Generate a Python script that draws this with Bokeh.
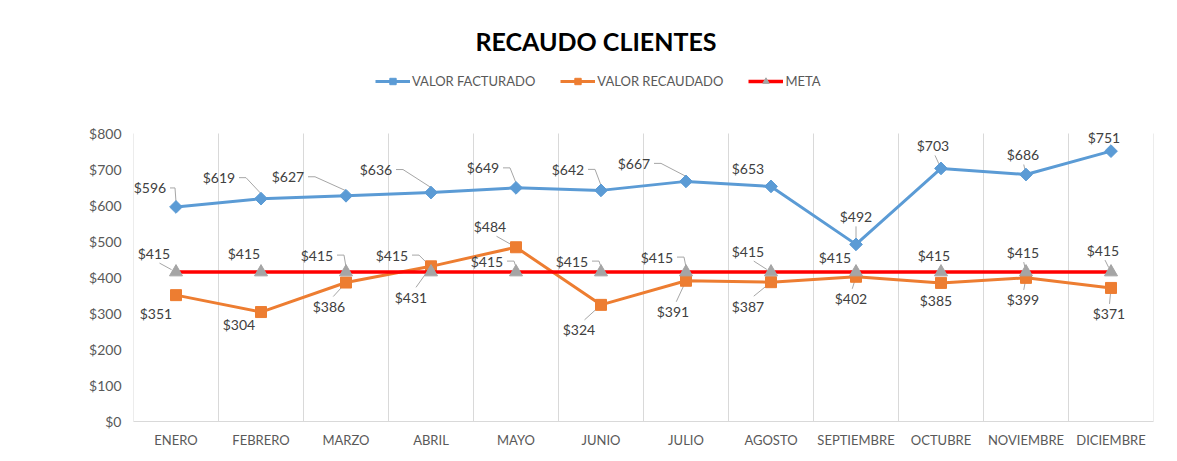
import math
import numpy as np
from bokeh.plotting import figure
from bokeh.models import (ColumnDataSource, Range1d, FixedTicker, LabelSet,
                          Legend, LegendItem, Title, NumeralTickFormatter)
from bokeh.core.properties import value
from bokeh.embed import file_html
from bokeh.resources import INLINE

# ---------------- data ----------------
months = ["ENERO", "FEBRERO", "MARZO", "ABRIL", "MAYO", "JUNIO", "JULIO",
          "AGOSTO", "SEPTIEMBRE", "OCTUBRE", "NOVIEMBRE", "DICIEMBRE"]
facturado = [596, 619, 627, 636, 649, 642, 667, 653, 492, 703, 686, 751]
recaudado = [351, 304, 386, 431, 484, 324, 391, 387, 402, 385, 399, 371]
meta = [415, 415, 415, 415, 415, 415, 415, 415, 415, 415, 415, 415]
y_ticks = [0, 100, 200, 300, 400, 500, 600, 700, 800]

# ---------------- label placement (pixel offsets: right / down) ----------------
fact_dx = [-26, -42, -58, -55, -33, -33, -52, -23, 0, -8, -3, -7]
fact_dy = [-19, -21, -19, -23, -20, -21, -18, -18, -28, -23, -20, -14]
fact_ld = ["L", "L", "L", "L", "L", "L", "L", "", "D", "D", "D", ""]

rec_dx = [-20, -22, -17, -20, -26, -22, -13, -23, -5, -5, -3, -2]
rec_dy = [18, 12, 24, 31, -21, 25, 31, 24, 22, 18, 22, 26]
rec_ld = ["", "", "D", "D", "D", "D", "D", "D", "D", "", "D", "D"]

meta_dx = [-22, -17, -29, -39, -29, -29, -29, -23, -21, -7, -3, -8]
meta_dy = [-19, -19, -17, -17, -11, -11, -15, -21, -15, -17, -20, -22]
meta_ld = ["D", "", "L", "L", "L", "L", "L", "D", "", "", "D", "D"]

FONT = "Lato"
Y_END = 1000                       # head room for the legend inside the frame
FRAME_W, FRAME_H = 1020, 360
B_LEFT, B_TOP, B_BOTTOM, B_RIGHT = 133, 61, 37, 17
W = B_LEFT + FRAME_W + B_RIGHT
H = B_TOP + FRAME_H + B_BOTTOM
PX_X = FRAME_W / len(months)
PX_Y = FRAME_H / Y_END

x_idx = np.arange(len(months)) + 0.5
bounds = np.arange(len(months) + 1)

p = figure(width=W, height=H,
           x_range=Range1d(0, len(months)), y_range=Range1d(0, Y_END),
           output_backend="svg", toolbar_location=None, title=None,
           min_border_left=B_LEFT, min_border_right=B_RIGHT,
           min_border_bottom=B_BOTTOM, min_border_top=B_TOP)
p.outline_line_color = None
p.background_fill_color = "white"
p.border_fill_color = "white"
p.xgrid.grid_line_color = None
p.ygrid.grid_line_color = None

# vertical separators at category boundaries (0 .. top tick)
p.segment(x0=bounds, y0=[y_ticks[0]] * len(bounds), x1=bounds,
          y1=[y_ticks[-1]] * len(bounds), line_color="#D9D9D9", line_width=1)

# x axis
p.xaxis.ticker = FixedTicker(ticks=list(x_idx))
p.xaxis.major_label_overrides = {float(x): m for x, m in zip(x_idx, months)}
p.xaxis.axis_line_color = "#D9D9D9"
p.xaxis.major_tick_line_color = None
p.xaxis.minor_tick_line_color = None
p.xaxis.major_tick_out = 0
p.xaxis.major_tick_in = 0
p.xaxis.major_label_text_font = FONT
p.xaxis.major_label_text_font_size = "13px"
p.xaxis.major_label_text_color = "#595959"
p.xaxis.major_label_standoff = 10

# y axis
p.yaxis.ticker = FixedTicker(ticks=y_ticks)
p.yaxis.formatter = NumeralTickFormatter(format="$0")
p.yaxis.axis_line_color = None
p.yaxis.major_tick_line_color = None
p.yaxis.minor_tick_line_color = None
p.yaxis.major_tick_out = 0
p.yaxis.major_tick_in = 0
p.yaxis.major_label_text_font = FONT
p.yaxis.major_label_text_font_size = "14px"
p.yaxis.major_label_text_color = "#595959"
p.yaxis.major_label_standoff = 12

src = ColumnDataSource(dict(
    x=x_idx, fact=facturado, rec=recaudado, meta=meta,
    fact_lbl=[f"${v}" for v in facturado],
    rec_lbl=[f"${v}" for v in recaudado],
    meta_lbl=[f"${v}" for v in meta],
    fact_xo=fact_dx, fact_yo=[-d for d in fact_dy],
    rec_xo=rec_dx, rec_yo=[-d for d in rec_dy],
    meta_xo=meta_dx, meta_yo=[-d for d in meta_dy],
))


def leaders(vals, dxs, dys, kinds, w=17, h=8, gap=5):
    xs, ys = [], []
    for i, (v, dx, dy, k) in enumerate(zip(vals, dxs, dys, kinds)):
        if not k:
            continue
        if k == "L":
            s = 1 if dx < 0 else -1
            p0 = (dx + s * (w + 3), dy)
            p1x = dx + s * (w + 10)
            p1x = min(p1x, -1) if s == 1 else max(p1x, 1)
            pts = [p0, (p1x, dy), (0, -gap if dy < 0 else gap)]
        else:
            sy = 1 if dy < 0 else -1
            p0 = (dx * 0.75, dy + sy * (h + 2))
            L = math.hypot(p0[0], p0[1])
            f = max(0.0, (L - gap) / L) if L > 0 else 0
            pts = [p0, (p0[0] - p0[0] * f, p0[1] - p0[1] * f)]
        xs.append([x_idx[i] + px / PX_X for px, py in pts])
        ys.append([v - py / PX_Y for px, py in pts])
    return xs, ys


LEADER_COLOR = "#A6A6A6"
for vals, dxs, dys, kinds in [(facturado, fact_dx, fact_dy, fact_ld),
                              (recaudado, rec_dx, rec_dy, rec_ld),
                              (meta, meta_dx, meta_dy, meta_ld)]:
    lx, ly = leaders(vals, dxs, dys, kinds)
    p.multi_line(xs=lx, ys=ly, line_color=LEADER_COLOR, line_width=1)

BLUE, ORANGE, RED, GRAY = "#5B9BD5", "#ED7D31", "#FF0000", "#A5A5A5"

fl = p.line("x", "fact", source=src, line_color=BLUE, line_width=3)
fm = p.scatter("x", "fact", source=src, marker="square", angle=math.pi / 4,
               size=9, fill_color=BLUE, line_color=BLUE)
rl = p.line("x", "rec", source=src, line_color=ORANGE, line_width=3)
rm = p.scatter("x", "rec", source=src, marker="square", size=11,
               fill_color=ORANGE, line_color=ORANGE)
ml = p.line("x", "meta", source=src, line_color=RED, line_width=3.5)
mm = p.scatter("x", "meta", source=src, marker="triangle", size=13,
               fill_color=GRAY, line_color=GRAY)

for col in ["fact", "rec", "meta"]:
    ls = LabelSet(x="x", y=col, text=f"{col}_lbl", source=src,
                  x_offset=f"{col}_xo", y_offset=f"{col}_yo",
                  text_align="center", text_baseline="middle",
                  text_font=value(FONT), text_font_size=value("14px"),
                  text_color="#404040")
    p.add_layout(ls)

legend = Legend(items=[
    LegendItem(label="VALOR FACTURADO", renderers=[fl, fm]),
    LegendItem(label="VALOR RECAUDADO", renderers=[rl, rm]),
    LegendItem(label="META", renderers=[ml, mm]),
], orientation="horizontal", location=(242, FRAME_H - 20 - 8),
    label_text_font=FONT, label_text_font_size="13px", label_text_color="#595959",
    glyph_width=35, glyph_height=16, label_height=16, label_standoff=2,
    spacing=25, padding=0, margin=0, border_line_color=None,
    background_fill_alpha=0)
p.add_layout(legend)

title = Title(text="RECAUDO  CLIENTES", align="left", offset=342,
              text_font=FONT, text_font_size="25px", text_font_style="bold",
              text_color="#000000", standoff=12)
p.add_layout(title, "above")

open("out.html", "w").write(file_html(p, INLINE))
